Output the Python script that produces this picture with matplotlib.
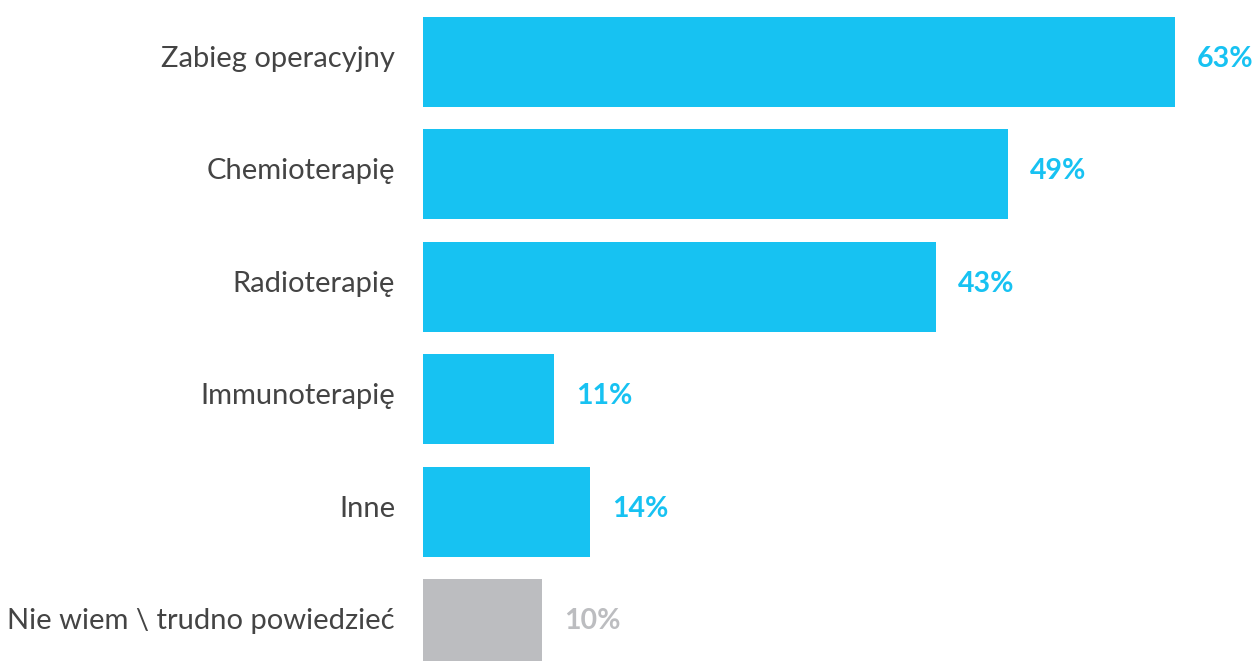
import matplotlib
matplotlib.use("Agg")
import matplotlib.pyplot as plt

categories = ["Zabieg operacyjny", "Chemioterapię", "Radioterapię", "Immunoterapię", "Inne",
              "Nie wiem \\ trudno powiedzieć"]
values = [63, 49, 43, 11, 14, 10]
labels = ["63%", "49%", "43%", "11%", "14%", "10%"]
colors = ["#17C2F2"] * 5 + ["#BCBDC0"]

W, H = 1256, 661
fig = plt.figure(figsize=(W / 100, H / 100), dpi=100)
left = 423 / W
ax = fig.add_axes([left, 0, 1 - left, 1])
scale = 752 / 63  # px per percent
ax.set_xlim(0, (W - 423) / scale)
step = 112.4
ax.set_ylim((H - 62) / step, -62 / step)

ys = list(range(len(categories)))
ax.barh(ys, values, height=0.8, color=colors)
dy = -3 / step
for y, v, lab, c, cat in zip(ys, values, labels, colors, categories):
    ax.text(v + 22 / scale, y + dy, lab, ha="left", va="center", fontsize=20.5,
            fontweight="bold", color=c, family="Lato")
    ax.text(-28 / scale, y + dy, cat, ha="right", va="center", fontsize=21,
            color="#444444", family="Lato", fontweight="normal", clip_on=False)
ax.axis("off")
fig.savefig("out.png", dpi=100)
